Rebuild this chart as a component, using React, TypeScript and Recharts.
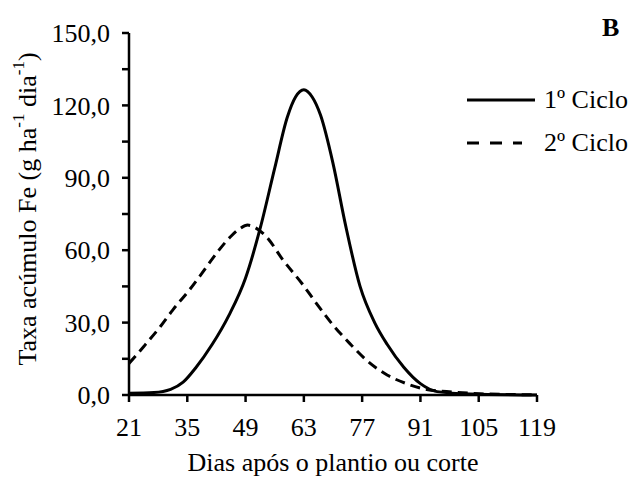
import { LineChart, Line, XAxis, YAxis } from 'recharts';

const FONT = "'Liberation Serif', 'Times New Roman', serif";

const xTicks = [21, 35, 49, 63, 77, 91, 105, 119];
const yTicks = [0, 15, 30, 45, 60, 75, 90, 105, 120, 135, 150];
const seriesNames = ['1º Ciclo', '2º Ciclo'];

// 1º Ciclo (solid)
const cycle1Days = [21, 27, 31, 34, 37, 41, 45, 49, 52.5, 56, 59, 61, 63, 65, 67, 70, 73, 76.5, 80, 83, 87, 91, 95, 103, 119];
const cycle1Values = [0.7, 1.0, 2.3, 5.3, 11.2, 21, 33, 48.5, 69, 94, 115, 123.5, 126.5, 123.5, 116, 96, 70.5, 45, 30, 21, 11.5, 4.7, 1.4, 0.4, 0];

// 2º Ciclo (dashed)
const cycle2Days = [21, 24.5, 28.5, 31.5, 35.5, 38.5, 42, 45.5, 47.5, 49.5, 52, 54, 58, 62.5, 66, 70, 74, 78, 83, 87.5, 92.5, 99, 107, 119];
const cycle2Values = [13.1, 20, 28.3, 35.2, 43.5, 50.4, 58.7, 65.8, 68.8, 70.4, 68.6, 65.6, 55.9, 46.3, 38, 29, 21.4, 14.5, 8.3, 4.8, 2.3, 1.2, 0.4, 0.1];

const cycle1 = cycle1Days.map((d, i) => ({ dia: d, taxa: cycle1Values[i] }));
const cycle2 = cycle2Days.map((d, i) => ({ dia: d, taxa: cycle2Values[i] }));

const fmtY = (v: number) => (v % 30 === 0 ? v.toFixed(1).replace('.', ',') : '');

const FS = 26;
const txt = { fontFamily: FONT, fontSize: FS, fill: '#000' };

const XTitle = (props: any) => {
  const { viewBox } = props;
  return (
    <text x={viewBox.x + viewBox.width / 2} y={471} textAnchor="middle" style={txt}>
      Dias após o plantio ou corte
    </text>
  );
};

const YTitle = () => (
  <text
    x={27}
    y={209}
    transform="rotate(-90, 27, 209)"
    textAnchor="middle"
    dominantBaseline="central"
    style={txt}
  >
    Taxa acúmulo Fe (g ha
    <tspan style={{ fontSize: 17 }} dy={-9}>-1</tspan>
    <tspan dy={9}> dia</tspan>
    <tspan style={{ fontSize: 17 }} dy={-9}>-1</tspan>
    <tspan dy={9}>)</tspan>
  </text>
);

const LegendBox = () => (
  <svg width={180} height={80} style={{ position: 'absolute', left: 460, top: 80 }}>
    {seriesNames.map((name, i) => {
      const y = 20 + i * 43;
      const dashed = i === 1;
      return (
        <g key={name}>
          <line
            x1={7}
            x2={dashed ? 62 : 75}
            y1={y}
            y2={y}
            stroke="#000"
            strokeWidth={3}
            strokeDasharray={dashed ? '12 11' : undefined}
          />
          <text x={84} y={y + 8} style={txt}>
            {name}
          </text>
        </g>
      );
    })}
  </svg>
);

export default function App() {
  return (
    <div
      style={{
        position: 'absolute',
        left: 0,
        top: 0,
        width: 641,
        height: 479,
        background: '#fff',
        fontFamily: FONT,
      }}
    >
      <LineChart width={641} height={479} margin={{ top: 33, right: 104, bottom: 0, left: 0 }}>
        <XAxis
          dataKey="dia"
          type="number"
          domain={[21, 119]}
          ticks={xTicks}
          allowDataOverflow
          height={84}
          tickSize={7}
          tickMargin={16}
          axisLine={{ stroke: '#000', strokeWidth: 2.5 }}
          tickLine={{ stroke: '#000', strokeWidth: 2.5 }}
          tick={{ fill: '#000', fontSize: FS, fontFamily: FONT, style: { fontFamily: FONT } }}
          label={<XTitle />}
        />
        <YAxis
          type="number"
          domain={[0, 150]}
          ticks={yTicks}
          width={129}
          tickSize={7}
          tickMargin={12}
          tickFormatter={fmtY}
          axisLine={{ stroke: '#000', strokeWidth: 2.5 }}
          tickLine={{ stroke: '#000', strokeWidth: 2.5 }}
          tick={{ fill: '#000', fontSize: FS, fontFamily: FONT, style: { fontFamily: FONT } }}
          label={<YTitle />}
        />
        <Line
          data={cycle1}
          dataKey="taxa"
          name={seriesNames[0]}
          type="monotone"
          stroke="#000"
          strokeWidth={3}
          dot={false}
          activeDot={false}
          isAnimationActive={false}
        />
        <Line
          data={cycle2}
          dataKey="taxa"
          name={seriesNames[1]}
          type="monotone"
          stroke="#000"
          strokeWidth={3}
          strokeDasharray="10 6"
          dot={false}
          activeDot={false}
          isAnimationActive={false}
        />
      </LineChart>
      <LegendBox />
      <div
        style={{
          position: 'absolute',
          left: 602,
          top: 14,
          fontFamily: FONT,
          fontWeight: 'bold',
          fontSize: FS,
          lineHeight: '28px',
        }}
      >
        B
      </div>
    </div>
  );
}
